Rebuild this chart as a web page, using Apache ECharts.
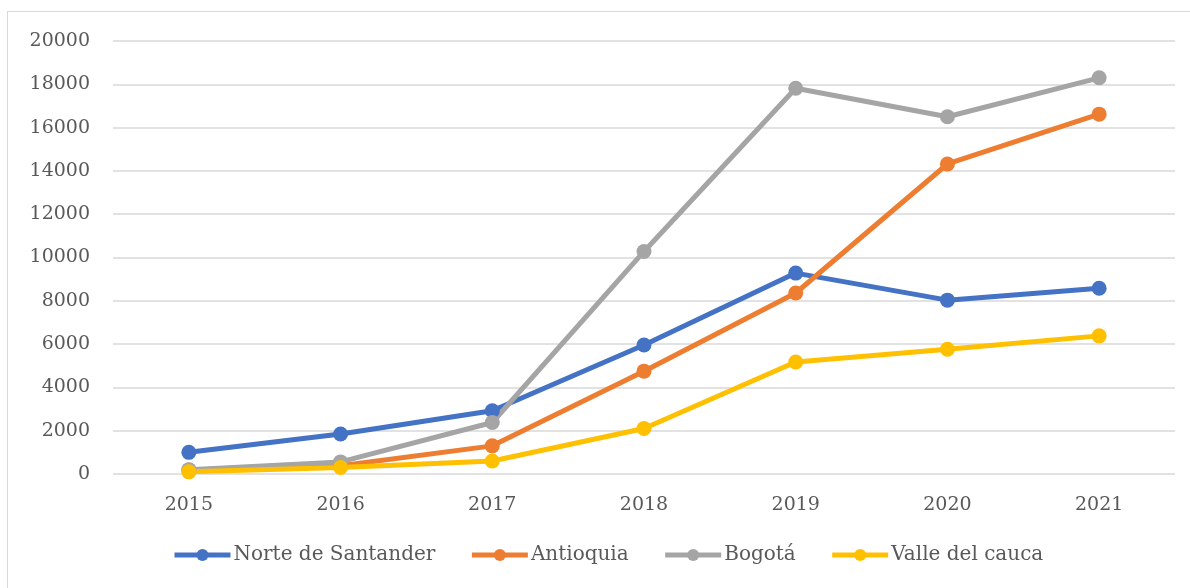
<!DOCTYPE html>
<html>
<head>
<meta charset="utf-8">
<script src="https://cdn.jsdelivr.net/npm/echarts@6/dist/echarts.min.js"></script>
<style>
  html, body { margin: 0; padding: 0; background: #fff; }
  #main { width: 1190px; height: 588px; }
  .frame { position: absolute; left: 7px; top: 11px; width: 1200px; height: 600px; border: 1px solid #d9d9d9; pointer-events: none; }
</style>
</head>
<body>
<div class="frame"></div>
<div id="main"></div>
<script>
  var years = ['2015', '2016', '2017', '2018', '2019', '2020', '2021'];
  var norteSantander = [1000, 1850, 2920, 5960, 9280, 8030, 8580];
  var antioquia = [180, 380, 1300, 4750, 8360, 14320, 16620];
  var bogota = [200, 560, 2380, 10280, 17820, 16500, 18300];
  var valleCauca = [100, 300, 600, 2100, 5170, 5760, 6380];
  var yTicks = { min: 0, max: 20000, interval: 2000 };

  var fontFam = '"DejaVu Serif", "Liberation Serif", serif';
  var textColor = '#595959';

  function mkSeries(name, data, color) {
    return {
      name: name,
      type: 'line',
      data: data,
      symbol: 'circle',
      symbolSize: 15,
      lineStyle: { width: 5, color: color },
      itemStyle: { color: color },
      animation: false
    };
  }

  var myChart = echarts.init(document.getElementById('main'));
  var option = {
    backgroundColor: 'transparent',
    grid: { left: 113, right: 15, top: 41, bottom: 114 },
    legend: {
      bottom: 18,
      left: 167,
      itemWidth: 56,
      itemHeight: 15,
      itemGap: 34,
      lineStyle: { width: 5 },
      textStyle: { fontFamily: fontFam, fontSize: 20, color: textColor, padding: [0, 0, 0, -2] },
      data: ['Norte de Santander', 'Antioquia', 'Bogotá', 'Valle del cauca']
    },
    xAxis: {
      type: 'category',
      data: years,
      boundaryGap: true,
      axisLine: { show: false },
      axisTick: { show: false },
      axisLabel: { fontFamily: fontFam, fontSize: 19, color: textColor, margin: 22 }
    },
    yAxis: {
      type: 'value',
      min: yTicks.min,
      max: yTicks.max,
      interval: yTicks.interval,
      axisLine: { show: false },
      axisTick: { show: false },
      splitLine: { lineStyle: { color: '#d9d9d9', width: 1.5 } },
      axisLabel: { fontFamily: fontFam, fontSize: 19, color: textColor, margin: 23, formatter: function (v) { return String(v); } }
    },
    series: [
      mkSeries('Norte de Santander', norteSantander, '#4472c4'),
      mkSeries('Antioquia', antioquia, '#ed7d31'),
      mkSeries('Bogotá', bogota, '#a5a5a5'),
      mkSeries('Valle del cauca', valleCauca, '#ffc000')
    ]
  };
  myChart.setOption(option);
</script>
</body>
</html>
